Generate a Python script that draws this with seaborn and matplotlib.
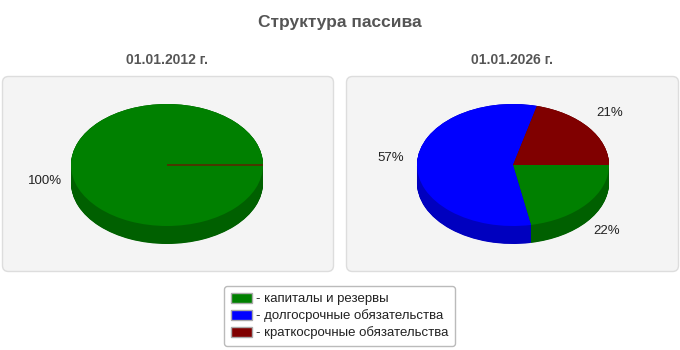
import numpy as np
import matplotlib
matplotlib.use("Agg")
import matplotlib.pyplot as plt
import seaborn as sns
from matplotlib.patches import FancyBboxPatch, Patch
from matplotlib.colors import to_rgb

sns.set_theme(style="white")
plt.rcParams['font.family'] = ['Liberation Sans', 'DejaVu Sans']

title = "Структура пассива"
dates = ["01.01.2012 г.", "01.01.2026 г."]
categories = ["капиталы и резервы", "долгосрочные обязательства", "краткосрочные обязательства"]
values_2012 = [100, 0, 0]
values_2026 = [22, 57, 21]
colors = ["#008000", "#0000ff", "#800000"]

W, H = 680, 350
fig = plt.figure(figsize=(W / 100, H / 100), dpi=100)
fig.patch.set_facecolor("white")

# background axes in pixel coordinates (y downward)
bg = fig.add_axes([0, 0, 1, 1])
bg.set_xlim(0, W)
bg.set_ylim(H, 0)
bg.axis("off")

for x0, x1 in [(2, 334), (346, 679)]:
    bg.add_patch(FancyBboxPatch((x0 + 0.5, 76.5), x1 - x0 - 1, 195,
                                boxstyle="round,pad=0,rounding_size=6",
                                facecolor="#f4f4f4", edgecolor="#dddddd", lw=1))

bg.text(340, 22, title, ha="center", va="center", fontsize=12.5,
        fontweight="bold", color="#555555")
for cx, d in zip([167, 512], dates):
    bg.text(cx, 60, d, ha="center", va="center", fontsize=10,
            fontweight="bold", color="#555555")

Rx, Ry, D = 96, 61, 18
depth = D / Ry


def darker(c, f=0.75):
    r, g, b = to_rgb(c)
    return (r * f, g * f, b * f)


def draw_pie(cx, cy, vals):
    ax = fig.add_axes([(cx - Rx) / W, (H - cy - Ry - D) / H, 2 * Rx / W, (2 * Ry + D) / H])
    # side (depth) layers
    for k in np.linspace(depth, 0.0, 40):
        w, _ = ax.pie(vals, colors=[darker(c) for c in colors], startangle=0,
                      counterclock=False, center=(0, -k), radius=1,
                      wedgeprops=dict(linewidth=0), normalize=True)
        for p in w:
            p.set_clip_on(False)
    total = sum(vals)
    labels = [f"{round(v / total * 100)}%" if v > 0 else "" for v in vals]
    wedges, texts = ax.pie(vals, colors=colors, startangle=0, counterclock=False,
                           labels=labels, labeldistance=1.27, radius=1,
                           wedgeprops=dict(linewidth=0), normalize=True,
                           textprops=dict(fontsize=9.5, color="#222222"))
    for wdg in wedges:
        wdg.set_clip_on(False)
    # a zero-sized last slice shows as a thin radial line in its colour
    zero_idx = [i for i, v in enumerate(vals) if v == 0]
    if zero_idx:
        i = zero_idx[-1]
        wedges[i].set_edgecolor(colors[i])
        wedges[i].set_linewidth(0.8)
    for t in texts:
        x, y = t.get_position()
        t.set_ha("center")
        t.set_va("center")
        if y <= 1e-6:
            t.set_position((x, y - depth * 0.9))
        else:
            t.set_position((x, y + 0.08))
        t.set_clip_on(False)
    ax.set_aspect("auto")
    ax.set_xlim(-1, 1)
    ax.set_ylim(-1 - depth, 1)
    ax.axis("off")


draw_pie(167, 165, values_2012)
draw_pie(513, 165, values_2026)

handles = [Patch(facecolor=c, edgecolor="#aaaaaa", label=f"- {n}") for c, n in zip(colors, categories)]
leg = fig.legend(handles=handles, loc="center", bbox_to_anchor=(339.5 / W, 1 - 316 / H),
                 frameon=True, fontsize=9.5, handlelength=1.6, handleheight=0.8,
                 handletextpad=0.3, labelspacing=0.3, borderpad=0.5, borderaxespad=0,
                 fancybox=True, edgecolor="#aaaaaa")
leg.get_frame().set_linewidth(1)
for t in leg.get_texts():
    t.set_color("#222222")

fig.savefig("out.png", dpi=100, facecolor="white")
